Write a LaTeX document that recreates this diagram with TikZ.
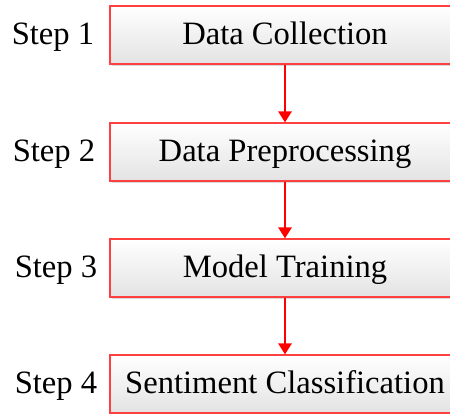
\documentclass[tikz,border=0pt]{standalone}
\usepackage{fontspec}
\setmainfont{Liberation Serif}
\usetikzlibrary{arrows.meta,shadows}
\begin{document}
\begin{tikzpicture}[x=1pt,y=1pt,
  stepbox/.style={draw=red!75, line width=1.1pt, top color=white, bottom color=black!11,
    minimum width=350pt, minimum height=58pt, inner sep=0pt,
    text height=20pt, text depth=0pt, font=\fontsize{32.6}{36}\selectfont,
    drop shadow={shadow xshift=2pt, shadow yshift=-2pt, opacity=0.25, fill=black!60}},
  steplabel/.style={inner sep=0pt, text height=20pt, text depth=0pt, font=\fontsize{32.6}{36}\selectfont},
  flow/.style={draw=red, line width=2.6pt, -{Triangle[width=13pt,length=11pt]}}]
\useasboundingbox (0,0) rectangle (450,414);
\clip (0,0) rectangle (450,414);
\fill[white] (0,0) rectangle (450,414);
% process boxes
\node[stepbox] (b1) at (285,379) {Data Collection};
\node[stepbox] (b2) at (285,262) {Data Preprocessing};
\node[stepbox] (b3) at (285,146) {Model Training};
\node[stepbox] (b4) at (285,30)  {Sentiment Classification};
% step labels
\node[steplabel] (l1) at (53,379) {Step 1};
\node[steplabel] (l2) at (54,262) {Step 2};
\node[steplabel] (l3) at (56,146) {Step 3};
\node[steplabel] (l4) at (56,30)  {Step 4};
% connectors
\draw[flow] (b1.south) -- (b2.north);
\draw[flow] (b2.south) -- (b3.north);
\draw[flow] (b3.south) -- (b4.north);
\end{tikzpicture}
\end{document}
